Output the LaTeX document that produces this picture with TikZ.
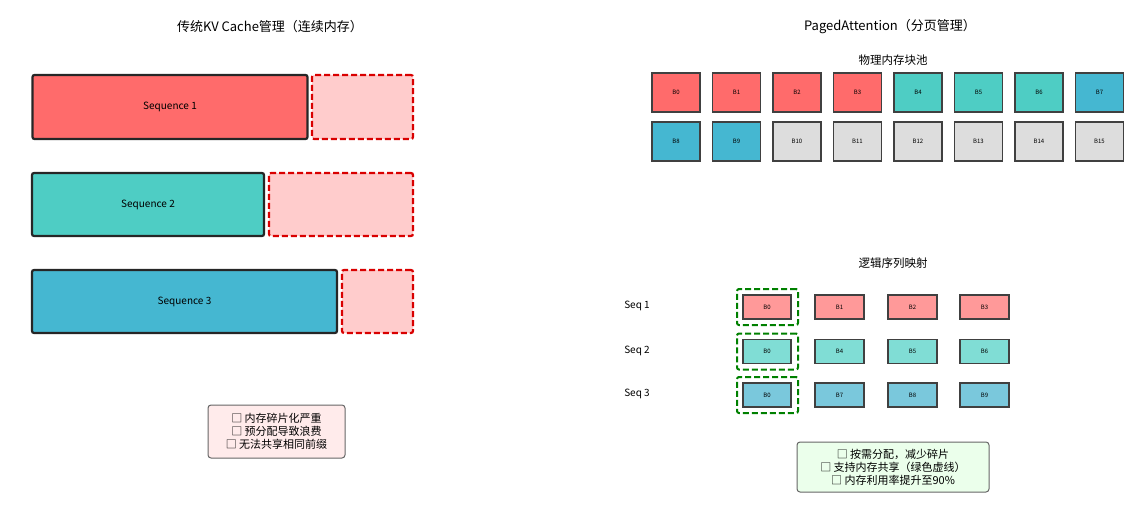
\documentclass[tikz,border=0pt]{standalone}
\usepackage{fontspec}
\setmainfont{Noto Sans CJK SC}
\begin{document}
\begin{tikzpicture}[x=1pt,y=-1pt,
 bar/.style={draw=black!85,line width=2.2pt,rounded corners=2pt,font=\fontsize{10}{11}\selectfont},
 waste/.style={draw=red!85!black,fill=red!20,dash pattern=on 6pt off 3pt,line width=2.2pt,rounded corners=2pt},
 blk/.style={draw=black!75,line width=1.3pt,font=\fontsize{6}{7}\selectfont},
 share/.style={draw=green!50!black,dash pattern=on 6pt off 3pt,line width=2pt,rounded corners=2pt},
 ttl/.style={font=\fontsize{13}{15}\selectfont},
 sub/.style={font=\fontsize{11.5}{13}\selectfont},
 leg/.style={draw=black!60,line width=1pt,rounded corners=3pt,align=center,font=\fontsize{11}{13}\selectfont,inner sep=2pt}]
\useasboundingbox (0,0) rectangle (1143,513);
\definecolor{cR}{HTML}{FF6B6B}\definecolor{cT}{HTML}{4ECDC4}\definecolor{cB}{HTML}{45B7D1}
\definecolor{lR}{HTML}{FF9999}\definecolor{lT}{HTML}{80DDD5}\definecolor{lB}{HTML}{7AC8DC}
\definecolor{cG}{HTML}{DDDDDD}
\node[ttl] (t1) at (270,27) {传统KV Cache管理（连续内存）};
\node[ttl] (t2) at (890,27) {PagedAttention（分页管理）};
\node[bar,fill=cR] (s1) at (170,107) [minimum width=275,minimum height=64] {Sequence 1};
\node[waste,minimum width=101,minimum height=64] (w1) at (362.5,107) {};
\node[bar,fill=cT] (s2) at (148,204.5) [minimum width=232,minimum height=63] {Sequence 2};
\node[waste,minimum width=144,minimum height=63] (w2) at (341,204.5) {};
\node[bar,fill=cB] (s3) at (184.5,301.5) [minimum width=305,minimum height=63] {Sequence 3};
\node[waste,minimum width=71,minimum height=63] (w3) at (377.5,301.5) {};
\node[leg,fill=red!8,minimum width=137,minimum height=53] (l1) at (276.5,431.5) {□\ 内存碎片化严重\\□\ 预分配导致浪费\\□\ 无法共享相同前缀};
\node[sub] (p1) at (893,60) {物理内存块池};
\foreach \i in {0,...,15}{
 \pgfmathsetmacro{\xx}{676+60.5*mod(\i,8)}
 \pgfmathsetmacro{\yy}{\i<8 ? 92.5 : 141.5}
 \ifnum\i<4 \def\cc{cR}\else\ifnum\i<7 \def\cc{cT}\else\ifnum\i<10 \def\cc{cB}\else\def\cc{cG}\fi\fi\fi
 \node[blk,fill=\cc,minimum width=48,minimum height=39] (pb\i) at (\xx,\yy) {B\i};
}
\node[sub] (p2) at (893,263) {逻辑序列映射};
\foreach \r/\y/\c/\a/\b/\d in {1/307/lR/1/2/3, 2/351.5/lT/4/5/6, 3/395/lB/7/8/9}{
 \node[font=\fontsize{10}{11}\selectfont] (q\r) at (637,\y-1) {Seq \r};
 \node[share,minimum width=61,minimum height=36] (g\r) at (767.5,\y) {};
 \node[blk,fill=\c,minimum width=48,minimum height=24] (m\r0) at (767,\y) {B0};
 \node[blk,fill=\c,minimum width=49,minimum height=24] (m\r1) at (839.5,\y) {B\a};
 \node[blk,fill=\c,minimum width=49,minimum height=24] (m\r2) at (912.5,\y) {B\b};
 \node[blk,fill=\c,minimum width=49,minimum height=24] (m\r3) at (984.5,\y) {B\d};
}
\node[leg,fill=green!8,minimum width=192,minimum height=50] (l2) at (893,467) {□\ 按需分配，减少碎片\\□\ 支持内存共享（绿色虚线）\\□\ 内存利用率提升至90\%};
\end{tikzpicture}
\end{document}
